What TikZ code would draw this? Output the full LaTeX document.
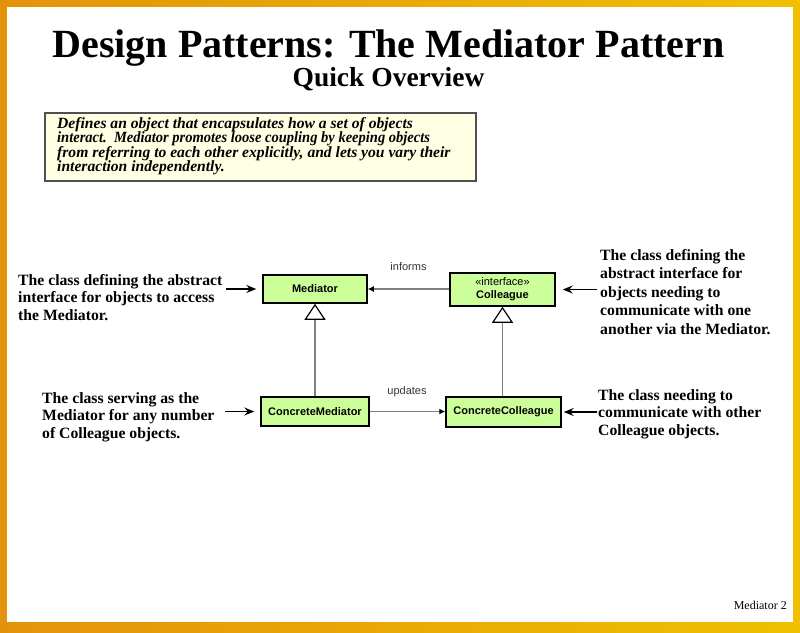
\documentclass[tikz,border=0pt]{standalone}
\usepackage{fontspec}
\setmainfont{Liberation Serif}
\newfontfamily\umlfont{Liberation Sans}
\usetikzlibrary{arrows.meta}
\definecolor{frameorange}{HTML}{E3930B}
\definecolor{frameyellow}{HTML}{FFDC00}
\definecolor{framegold}{HTML}{F0C000}
\definecolor{notefill}{HTML}{FFFFE3}
\definecolor{noteedge}{HTML}{505050}
\definecolor{classfill}{HTML}{CCFF99}
\definecolor{linkgray}{HTML}{808080}
\definecolor{labelgray}{HTML}{333333}

\begin{document}
\begin{tikzpicture}[x=1pt,y=-1pt,
  classbox/.style={draw=black, line width=1.5pt, fill=classfill,
    font=\umlfont\bfseries\fontsize{11}{13}\selectfont,
    inner sep=0pt, align=center},
  link/.style={draw=linkgray, line width=1.1pt},
  assoc/.style={link, -{Latex[length=6pt,width=6pt,color=black]}},
  inherit/.style={link, -{Triangle[open,length=16pt,width=21pt,color=black,line width=1.2pt]}},
  linklabel/.style={font=\umlfont\fontsize{11}{13}\selectfont, text=labelgray, inner sep=0pt},
  remark/.style={font=\bfseries\fontsize{15.7}{17.5}\selectfont, align=left,
    inner sep=0pt, anchor=north west},
  pointer/.style={draw=black, line width=1.2pt,
    -{Stealth[length=10pt,width=8pt,inset=3.5pt]}}
]
\useasboundingbox (0,0) rectangle (800,632);

% golden frame around the slide
\shade[left color=frameorange, middle color=frameyellow, right color=framegold]
  (0,0) rectangle (800,632);
\fill[white] (7,7) rectangle (793,622);

% headings
\node[font=\bfseries\fontsize{40}{44}\selectfont, anchor=base, inner sep=0pt]
  (title) at (388.5,57) {Design Patterns: The Mediator Pattern};
\node[font=\bfseries\fontsize{27.5}{32}\selectfont, anchor=base, inner sep=0pt]
  (subtitle) at (388.5,86) {Quick Overview};

% intent box
\node[draw=noteedge, line width=1.5pt, fill=notefill, anchor=north west,
  minimum width=431pt, minimum height=68pt, inner sep=0pt] (intent) at (44,112) {};
\node[font=\bfseries\itshape\fontsize{15.6}{14.5}\selectfont, align=left,
  inner sep=0pt, anchor=north west] (intenttext) at (57,117)
  {\lineskiplimit=-10pt Defines an object that encapsulates how a set of objects\\
   \scalebox{0.93}[1]{interact.\ \ Mediator promotes loose coupling by keeping objects}\\
   from referring to each other explicitly, and lets you vary their\\
   interaction independently.};

% classes
\node[classbox, minimum width=104pt, minimum height=28pt] (med) at (315,289) {Mediator};
\node[classbox, minimum width=105pt, minimum height=33pt] (col) at (502.5,289.5)
  {\mdseries\guillemotleft interface\guillemotright\\Colleague};
\node[classbox, minimum width=108pt, minimum height=29pt] (cmed) at (315,411.5) {ConcreteMediator};
\node[classbox, minimum width=115pt, minimum height=30pt] (ccol) at (503.5,412) {ConcreteColleague};

% relations
\draw[assoc] (col.west |- med.east) -- (med.east);
\node[linklabel] (informs) at (408.5,267) {informs};
\draw[assoc] (cmed.east) -- (cmed.east -| ccol.west);
\node[linklabel] (updates) at (407,392) {updates};
\draw[inherit] (cmed.north) -- (med.south);
\draw[inherit] (cmed.north -| col.south) -- (col.south);

% explanations
\node[remark] (medtext) at (18,274)
  {The class defining the abstract\\interface for objects to access\\the Mediator.};
\node[remark, font=\bfseries\fontsize{15.7}{18.5}\selectfont] (coltext) at (600,249)
  {The class defining the\\abstract interface for\\objects needing to\\communicate with one\\another via the Mediator.};
\node[remark] (cmedtext) at (42,392)
  {The class serving as the\\Mediator for any number\\of Colleague objects.};
\node[remark] (ccoltext) at (598,389)
  {The class needing to\\communicate with other\\Colleague objects.};

\draw[pointer] (226,0 |- med.west) -- ([xshift=-6pt]med.west);
\draw[pointer] (597,0 |- col.east) -- ([xshift=7pt]col.east);
\draw[pointer] (225,0 |- cmed.west) -- ([xshift=-6pt]cmed.west);
\draw[pointer] (597,0 |- ccol.east) -- ([xshift=2pt]ccol.east);

% page number
\node[font=\fontsize{12}{14}\selectfont, anchor=base east, inner sep=0pt]
  (pageno) at (787,609) {Mediator 2};
\end{tikzpicture}
\end{document}
